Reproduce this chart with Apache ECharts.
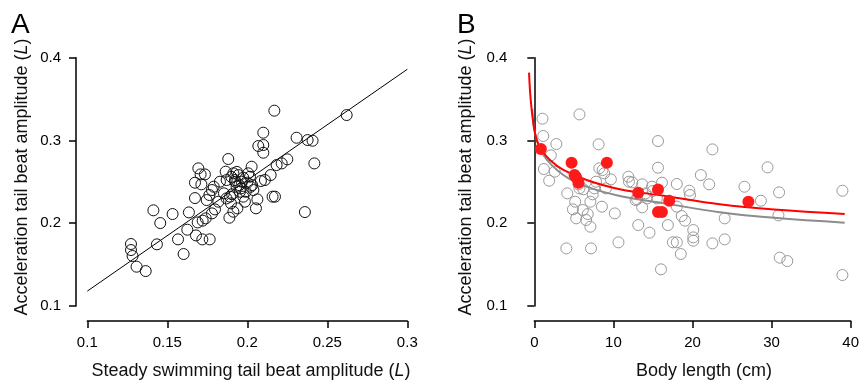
<!DOCTYPE html>
<html>
<head>
<meta charset="utf-8">
<script src="https://cdn.jsdelivr.net/npm/echarts@6/dist/echarts.min.js"></script>
<style>html,body{margin:0;padding:0;background:#fff}#c{width:862px;height:381px}</style>
</head>
<body>
<div id="c"></div>
<script>
// Panel A: steady vs acceleration tail beat amplitude
var aX = [0.1273,0.1273,0.1283,0.1308,0.1365,0.1413,0.1435,0.1456,0.1533,0.1567,0.1602,0.1635,0.1625,0.1679,0.1673,0.1673,0.1694,0.1708,0.1713,0.1735,0.1719,0.1765,0.1690,0.1721,0.1740,0.1746,0.1763,0.1779,0.1790,0.1779,0.1798,0.1819,0.1829,0.1854,0.1881,0.1865,0.1871,0.1888,0.1892,0.1898,0.1913,0.1923,0.1933,0.1944,0.1954,0.1938,0.1965,0.1975,0.1985,0.2006,0.2017,0.2027,0.2021,0.2038,0.2054,0.2063,0.2085,0.2069,0.2100,0.2100,0.2100,0.2110,0.2146,0.2158,0.2173,0.2169,0.2183,0.2215,0.2250,0.2308,0.2360,0.2377,0.2408,0.2419,0.2621,0.1913,0.1900,0.1950,0.1960,0.1925,0.1975,0.1905,0.2000,0.1935,0.2030,0.1870,0.1990];
var aY = [0.1749,0.1676,0.1604,0.1475,0.1422,0.2156,0.1745,0.2002,0.2111,0.1805,0.1628,0.2131,0.1922,0.1853,0.2304,0.2490,0.2663,0.2590,0.2470,0.2590,0.1805,0.1805,0.2010,0.2031,0.2059,0.2280,0.2341,0.2401,0.2441,0.2119,0.2167,0.2260,0.2502,0.2361,0.2776,0.2623,0.2522,0.2067,0.2321,0.2240,0.2603,0.2522,0.2441,0.2582,0.2381,0.2180,0.2502,0.2321,0.2260,0.2603,0.2562,0.2683,0.2441,0.2401,0.2180,0.2288,0.2510,0.2933,0.3094,0.2945,0.2852,0.2522,0.2582,0.2321,0.2321,0.3360,0.2703,0.2723,0.2772,0.3033,0.2135,0.3005,0.2997,0.2723,0.3307,0.2139,0.2560,0.2460,0.2420,0.2500,0.2550,0.2350,0.2490,0.2620,0.2460,0.2300,0.2380];
var fitX = [0.1, 0.3];
var fitY = [0.118, 0.386];
var aXTicks = [0.1, 0.15, 0.2, 0.25, 0.3];
var aYTicks = [0.1, 0.2, 0.3, 0.4];

// Panel B: body length vs acceleration tail beat amplitude
var bGrayX = [1.04,1.13,1.21,1.88,2.09,2.79,2.59,4.17,4.05,4.88,5.17,5.30,5.71,5.71,6.13,6.55,6.76,7.09,7.17,7.09,7.38,7.59,7.80,8.13,8.22,8.63,8.55,8.84,9.05,9.68,10.18,10.64,11.89,11.97,13.14,12.80,13.64,13.64,14.06,14.26,14.56,14.89,15.64,15.64,16.14,16.02,16.89,17.52,18.02,18.02,18.02,18.52,18.64,19.06,19.60,19.69,20.10,20.10,20.10,21.06,22.11,22.52,22.52,24.07,24.07,26.57,28.65,29.49,30.95,30.87,31.03,31.99,38.96,38.96,12.39,13.0,14.97,15.5,6.2,5.6];
var bGrayY = [0.3263,0.3054,0.2655,0.2514,0.2820,0.2957,0.2623,0.2361,0.1696,0.2168,0.2260,0.2059,0.3315,0.2421,0.2160,0.2039,0.2111,0.1958,0.1696,0.2260,0.2349,0.2421,0.2502,0.2953,0.2663,0.2643,0.2200,0.2603,0.2421,0.2530,0.2119,0.1769,0.2562,0.2502,0.1978,0.2280,0.2470,0.2192,0.2361,0.2300,0.1886,0.2441,0.2993,0.2671,0.2490,0.1443,0.1978,0.1769,0.2474,0.2200,0.1769,0.1628,0.2087,0.2031,0.2393,0.2341,0.1918,0.1829,0.1789,0.2582,0.2470,0.2892,0.1757,0.2059,0.1805,0.2441,0.2272,0.2675,0.2373,0.2095,0.1584,0.1543,0.2393,0.1374,0.2494,0.2290,0.2389,0.2300,0.2410,0.2470];
var bRedX = [0.83,4.71,5.09,5.30,5.59,9.18,13.14,15.64,15.64,16.14,17.06,27.07];
var bRedY = [0.2897,0.2731,0.2582,0.2554,0.2490,0.2731,0.2369,0.2409,0.2135,0.2135,0.2272,0.2260];
var redCurveX = [-0.66,-0.45,-0.12,0.29,0.92,1.96,3.63,6.55,10.71,16.34,23.21,30.0,38.84];
var redCurveY = [0.382,0.349,0.321,0.301,0.2885,0.2764,0.2644,0.2523,0.2411,0.2330,0.2229,0.2165,0.2112];
var grayCurveX = [-0.25,0.09,1.13,3.63,6.55,10.71,16.34,23.21,30.0,38.84];
var grayCurveY = [0.338,0.3087,0.2825,0.2583,0.2442,0.2330,0.2240,0.2133,0.2065,0.2007];
var bXTicks = [0, 10, 20, 30, 40];
var bYTicks = [0.1, 0.2, 0.3, 0.4];
var curveXMin = -0.8; // hidden axis for curves that start just left of 0

function zip(xs, ys) { return xs.map(function (x, i) { return [x, ys[i]]; }); }

var FONT = 'Liberation Sans, Arial, sans-serif';
function axis(extra, labelExtra) {
  var a = {
    type: 'value',
    axisLine: { show: true, lineStyle: { color: '#000', width: 1.5 } },
    axisTick: { show: true, length: 7, inside: false, lineStyle: { color: '#000', width: 1.5 } },
    splitLine: { show: false },
    axisLabel: Object.assign({ color: '#000', fontSize: 15, fontFamily: FONT, margin: 15 }, labelExtra || {})
  };
  return Object.assign(a, extra);
}
function hidden(extra) {
  return Object.assign({ type: 'value', show: false, splitLine: { show: false } }, extra);
}
var fmt2 = function (v) { return String(+v.toFixed(2)); };
var fmt1 = function (v) { return String(+v.toFixed(1)); };

var B_LEFT = 534.3, B_RIGHT = 8, PX_PER_UNIT = (862 - B_LEFT - B_RIGHT) / 40;

var chart = echarts.init(document.getElementById('c'), null, { renderer: 'canvas' });
chart.setOption({
  animation: false,
  backgroundColor: '#fff',
  grid: [
    { left: 87.3, right: 454.7, top: 57.7, bottom: 75 },
    { left: B_LEFT, right: B_RIGHT, top: 57.7, bottom: 75 },
    { left: B_LEFT + curveXMin * PX_PER_UNIT, right: B_RIGHT, top: 57.7, bottom: 75 }
  ],
  xAxis: [
    axis({ gridIndex: 0, min: aXTicks[0], max: aXTicks[aXTicks.length - 1], interval: 0.05, offset: 15 }, { margin: 14, formatter: fmt2 }),
    axis({ gridIndex: 1, min: bXTicks[0], max: bXTicks[bXTicks.length - 1], interval: 10, offset: 15 }, { margin: 14 }),
    hidden({ gridIndex: 2, min: curveXMin, max: bXTicks[bXTicks.length - 1] })
  ],
  yAxis: [
    axis({ gridIndex: 0, min: aYTicks[0], max: aYTicks[aYTicks.length - 1], interval: 0.1, offset: 11.3 }, { formatter: fmt1 }),
    axis({ gridIndex: 1, min: bYTicks[0], max: bYTicks[bYTicks.length - 1], interval: 0.1, offset: 12 }, { formatter: fmt1 }),
    hidden({ gridIndex: 2, min: bYTicks[0], max: bYTicks[bYTicks.length - 1] })
  ],
  series: [
    { type: 'line', xAxisIndex: 0, yAxisIndex: 0, data: zip(fitX, fitY), symbol: 'none',
      lineStyle: { color: '#000', width: 1 }, z: 2 },
    { type: 'scatter', xAxisIndex: 0, yAxisIndex: 0, data: zip(aX, aY), symbol: 'circle', symbolSize: 11,
      itemStyle: { color: 'rgba(0,0,0,0)', borderColor: '#111', borderWidth: 1, opacity: 1 }, z: 3 },
    { type: 'scatter', xAxisIndex: 1, yAxisIndex: 1, data: zip(bGrayX, bGrayY), symbol: 'circle', symbolSize: 11,
      itemStyle: { color: 'rgba(0,0,0,0)', borderColor: '#999', borderWidth: 1, opacity: 1 }, z: 2 },
    { type: 'line', xAxisIndex: 2, yAxisIndex: 2, data: zip(grayCurveX, grayCurveY), smooth: 0.4, symbol: 'none',
      lineStyle: { color: '#8c8c8c', width: 2 }, z: 3 },
    { type: 'line', xAxisIndex: 2, yAxisIndex: 2, data: zip(redCurveX, redCurveY), smooth: 0.4, symbol: 'none',
      lineStyle: { color: '#ff0000', width: 2 }, z: 4 },
    { type: 'scatter', xAxisIndex: 1, yAxisIndex: 1, data: zip(bRedX, bRedY), symbol: 'circle', symbolSize: 12,
      itemStyle: { color: '#ff1a1a', borderWidth: 0, opacity: 1 }, z: 5 }
  ],
  graphic: [
    { type: 'text', left: 11, top: 11, style: { text: 'A', font: '28px ' + FONT, fill: '#000' } },
    { type: 'text', left: 457, top: 11, style: { text: 'B', font: '28px ' + FONT, fill: '#000' } },
    { type: 'text', x: 251, y: 371, style: { text: 'Steady swimming tail beat amplitude ({i|L})', font: '18px ' + FONT, fill: '#111',
        align: 'center', verticalAlign: 'middle', rich: { i: { fontStyle: 'italic', fontSize: 18, fontFamily: FONT, fill: '#111' } } } },
    { type: 'text', x: 704, y: 371, style: { text: 'Body length (cm)', font: '18px ' + FONT, fill: '#111',
        align: 'center', verticalAlign: 'middle' } },
    { type: 'text', x: 22, y: 177, rotation: Math.PI / 2, style: { text: 'Acceleration tail beat amplitude ({i|L})', font: '18px ' + FONT, fill: '#111',
        align: 'center', verticalAlign: 'middle', rich: { i: { fontStyle: 'italic', fontSize: 18, fontFamily: FONT, fill: '#111' } } } },
    { type: 'text', x: 466, y: 177, rotation: Math.PI / 2, style: { text: 'Acceleration tail beat amplitude ({i|L})', font: '18px ' + FONT, fill: '#111',
        align: 'center', verticalAlign: 'middle', rich: { i: { fontStyle: 'italic', fontSize: 18, fontFamily: FONT, fill: '#111' } } } }
  ]
});
</script>
</body>
</html>
